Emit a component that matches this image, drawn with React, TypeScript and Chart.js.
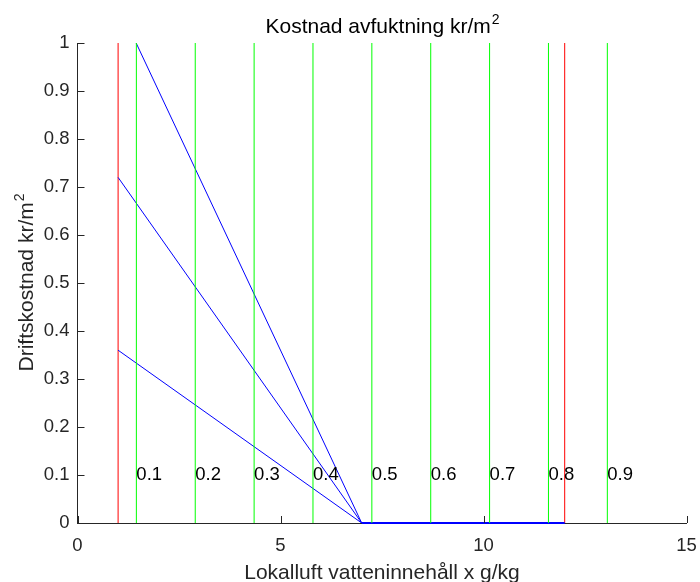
import React, { useEffect, useRef } from 'react';
import { Chart, registerables } from 'chart.js';

Chart.register(...registerables);

// ---- data ----
const xMin = 0;
const xMax = 15;
const xStep = 5;
const yMin = 0;
const yMax = 1;
const yStep = 0.1;
const redX = [1, 12];
const greenX = [1.45, 2.9, 4.35, 5.8, 7.25, 8.7, 10.15, 11.6, 13.05];
const greenLabels = ['0.1', '0.2', '0.3', '0.4', '0.5', '0.6', '0.7', '0.8', '0.9'];
const greenLabelY = 0.1;
const blueStartX = 1;
const blueStartY = [0.36, 0.72, 1.08];
const blueKneeX = 7;
const blueEndX = 12;
const blueFlatY = 0;
const titleMain = 'Kostnad avfuktning kr/m';
const titleSup = '2';
const xTitle = 'Lokalluft vatteninnehåll x g/kg';
const yTitleMain = 'Driftskostnad kr/m';
const yTitleSup = '2';

const FONT = "'Liberation Sans', Arial, sans-serif";
const AXIS_COLOR = '#262626';
const TICK_SIZE = 18.5;
const LABEL_SIZE = 21;
const SUP_SIZE = 14;

function drawSupText(
  ctx: CanvasRenderingContext2D,
  main: string,
  sup: string,
  cx: number,
  baseY: number,
  size: number,
  supSize: number
) {
  ctx.font = `${size}px ${FONT}`;
  const wMain = ctx.measureText(main).width;
  ctx.font = `${supSize}px ${FONT}`;
  const wSup = ctx.measureText(sup).width;
  const start = cx - (wMain + wSup) / 2;
  ctx.textAlign = 'left';
  ctx.textBaseline = 'alphabetic';
  ctx.font = `${size}px ${FONT}`;
  ctx.fillText(main, start, baseY);
  ctx.font = `${supSize}px ${FONT}`;
  ctx.fillText(sup, start + wMain + 1, baseY - size * 0.42);
}

const decorPlugin = {
  id: 'decor',
  afterDraw(chart: any) {
    const { ctx, chartArea, scales } = chart;
    const xs = scales.x;
    const ys = scales.y;
    ctx.save();
    // inward ticks
    ctx.strokeStyle = AXIS_COLOR;
    ctx.lineWidth = 1;
    const tl = 7;
    ctx.beginPath();
    xs.ticks.forEach((t: any) => {
      const px = Math.round(xs.getPixelForValue(t.value)) + 0.5;
      ctx.moveTo(px, chartArea.bottom);
      ctx.lineTo(px, chartArea.bottom - tl);
    });
    ys.ticks.forEach((t: any) => {
      const py = Math.round(ys.getPixelForValue(t.value)) + 0.5;
      ctx.moveTo(chartArea.left, py);
      ctx.lineTo(chartArea.left + tl, py);
    });
    ctx.stroke();

    // labels next to green lines
    ctx.fillStyle = '#000000';
    ctx.font = `${TICK_SIZE}px ${FONT}`;
    ctx.textAlign = 'left';
    ctx.textBaseline = 'middle';
    greenX.forEach((gx, i) => {
      ctx.fillText(greenLabels[i], xs.getPixelForValue(gx), ys.getPixelForValue(greenLabelY));
    });

    // titles
    ctx.fillStyle = '#000000';
    const cx = (chartArea.left + chartArea.right) / 2;
    drawSupText(ctx, titleMain, titleSup, cx, 33, LABEL_SIZE, SUP_SIZE);

    ctx.fillStyle = AXIS_COLOR;
    ctx.font = `${LABEL_SIZE}px ${FONT}`;
    ctx.textAlign = 'center';
    ctx.textBaseline = 'alphabetic';
    ctx.fillText(xTitle, cx, 579);

    ctx.save();
    const cy = (chartArea.top + chartArea.bottom) / 2;
    ctx.translate(33, cy);
    ctx.rotate(-Math.PI / 2);
    drawSupText(ctx, yTitleMain, yTitleSup, 0, 0, LABEL_SIZE, SUP_SIZE);
    ctx.restore();

    ctx.restore();
  },
};

function vline(x: number, color: string) {
  return {
    data: [
      { x, y: yMin },
      { x, y: yMax },
    ],
    borderColor: color,
    backgroundColor: color,
    borderWidth: 1,
    pointRadius: 0,
    showLine: true,
    fill: false,
  };
}

export default function App() {
  const ref = useRef<HTMLCanvasElement | null>(null);

  useEffect(() => {
    if (!ref.current) return;
    const datasets: any[] = [];
    greenX.forEach((g) => datasets.push(vline(g, '#00ff00')));
    // flat part shared by the three cost lines
    datasets.push({
      data: [
        { x: blueKneeX, y: blueFlatY },
        { x: blueEndX, y: blueFlatY },
      ],
      borderColor: '#0000ff',
      backgroundColor: '#0000ff',
      borderWidth: 2,
      pointRadius: 0,
      showLine: true,
      fill: false,
      clip: 4,
    });
    blueStartY.forEach((by) =>
      datasets.push({
        data: [
          { x: blueStartX, y: by },
          { x: blueKneeX, y: blueFlatY },
        ],
        borderColor: '#0000ff',
        backgroundColor: '#0000ff',
        borderWidth: 1,
        pointRadius: 0,
        showLine: true,
        fill: false,
      })
    );
    redX.forEach((r) => datasets.push(vline(r, '#ff0000')));

    const chart = new Chart(ref.current, {
      type: 'scatter',
      data: { datasets },
      plugins: [decorPlugin],
      options: {
        animation: false,
        responsive: false,
        events: [],
        layout: { padding: { top: 43, right: 13.5, bottom: 0, left: 0 } },
        plugins: {
          legend: { display: false },
          tooltip: { enabled: false },
          title: { display: false },
        },
        scales: {
          x: {
            type: 'linear',
            min: xMin,
            max: xMax,
            afterFit: (s: any) => {
              s.height = 59;
              s.paddingLeft = 0;
              s.paddingRight = 0;
            },
            ticks: {
              stepSize: xStep,
              autoSkip: false,
              maxRotation: 0,
              padding: 12,
              color: AXIS_COLOR,
              font: { family: FONT, size: TICK_SIZE },
            },
            grid: { display: true, drawOnChartArea: false, drawTicks: false },
            border: { display: true, color: AXIS_COLOR, width: 1 },
          },
          y: {
            type: 'linear',
            min: yMin,
            max: yMax,
            afterFit: (s: any) => {
              s.width = 77.5;
              s.paddingTop = 0;
              s.paddingBottom = 0;
            },
            ticks: {
              stepSize: yStep,
              autoSkip: false,
              padding: 8,
              color: AXIS_COLOR,
              font: { family: FONT, size: TICK_SIZE },
              callback: (v: any) => String(Number(Number(v).toFixed(1))),
            },
            grid: { display: true, drawOnChartArea: false, drawTicks: false },
            border: { display: true, color: AXIS_COLOR, width: 1 },
          },
        },
      },
    } as any);
    return () => chart.destroy();
  }, []);

  return (
    <div style={{ position: 'absolute', left: 0, top: 0, width: 700, height: 582, background: '#fff' }}>
      <canvas ref={ref} width={700} height={582} style={{ display: 'block' }} />
    </div>
  );
}
